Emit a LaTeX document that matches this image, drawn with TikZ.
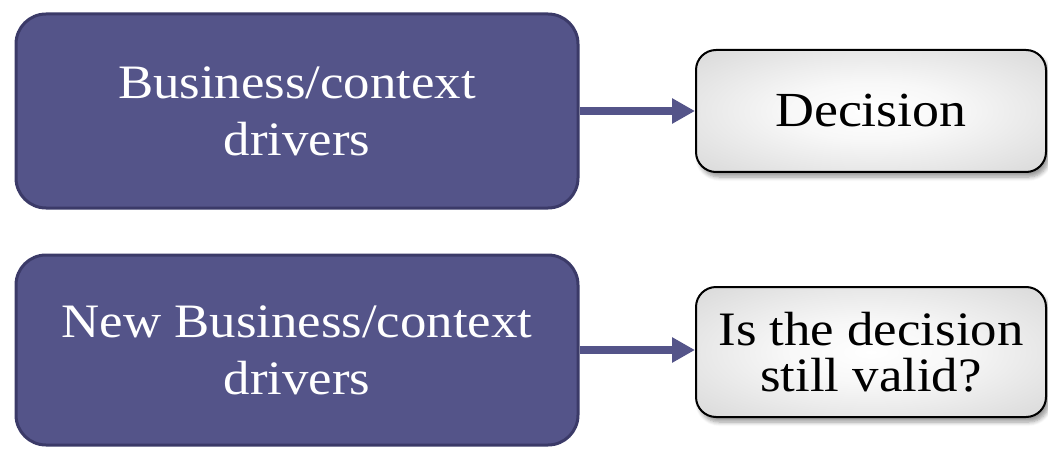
\documentclass[tikz,border=0pt]{standalone}
\usepackage{fontspec}
\setmainfont{Liberation Serif}[FakeStretch=1.1]
\usetikzlibrary{arrows.meta,shadows.blur}
\definecolor{drvfill}{HTML}{545489}
\definecolor{drvline}{HTML}{3B3A68}
% soft white centre fading to light grey at the rim
\pgfdeclareradialshading{softglow}{\pgfpoint{0bp}{0bp}}{%
  color(0bp)=(white); color(12bp)=(white!97!black); color(30bp)=(black!12);
  color(50bp)=(black!22); color(72bp)=(black!26)}
\tikzset{
  driver/.style={draw=drvline, line width=3pt, fill=drvfill, rounded corners=30pt,
    minimum width=562pt, text=white, align=center, inner sep=0pt},
  outcome/.style={draw=black, line width=2pt, rounded corners=20pt,
    shading=softglow, minimum width=350pt,
    align=center, inner sep=0pt,
    blur shadow={shadow xshift=3pt, shadow yshift=-5pt, shadow blur steps=6, shadow blur radius=4pt}},
  link/.style={draw=drvfill, line width=8pt, -{Triangle[length=23pt,width=24pt]}}
}
\begin{document}
\begin{tikzpicture}[x=1pt,y=-1pt]
\useasboundingbox (0,0) rectangle (1048,449);
\node[driver, minimum height=194pt, font=\fontsize{48}{57}\selectfont] (drv) at (297,111) {Business/context\\drivers};
\node[driver, minimum height=190pt, font=\fontsize{48}{57}\selectfont] (newdrv) at (297,350) {New Business/context\\drivers};
\node[outcome, minimum height=122pt, font=\fontsize{49}{58}\selectfont] (dec) at (871,111) {Decision};
\node[outcome, minimum height=130pt, font=\fontsize{48}{46}\selectfont] (valid) at (871,352) {Is the decision\\still valid?};
\draw[link] (drv.east) -- (drv.east -| dec.west);
\draw[link] (newdrv.east) -- (newdrv.east -| valid.west);
\end{tikzpicture}
\end{document}
